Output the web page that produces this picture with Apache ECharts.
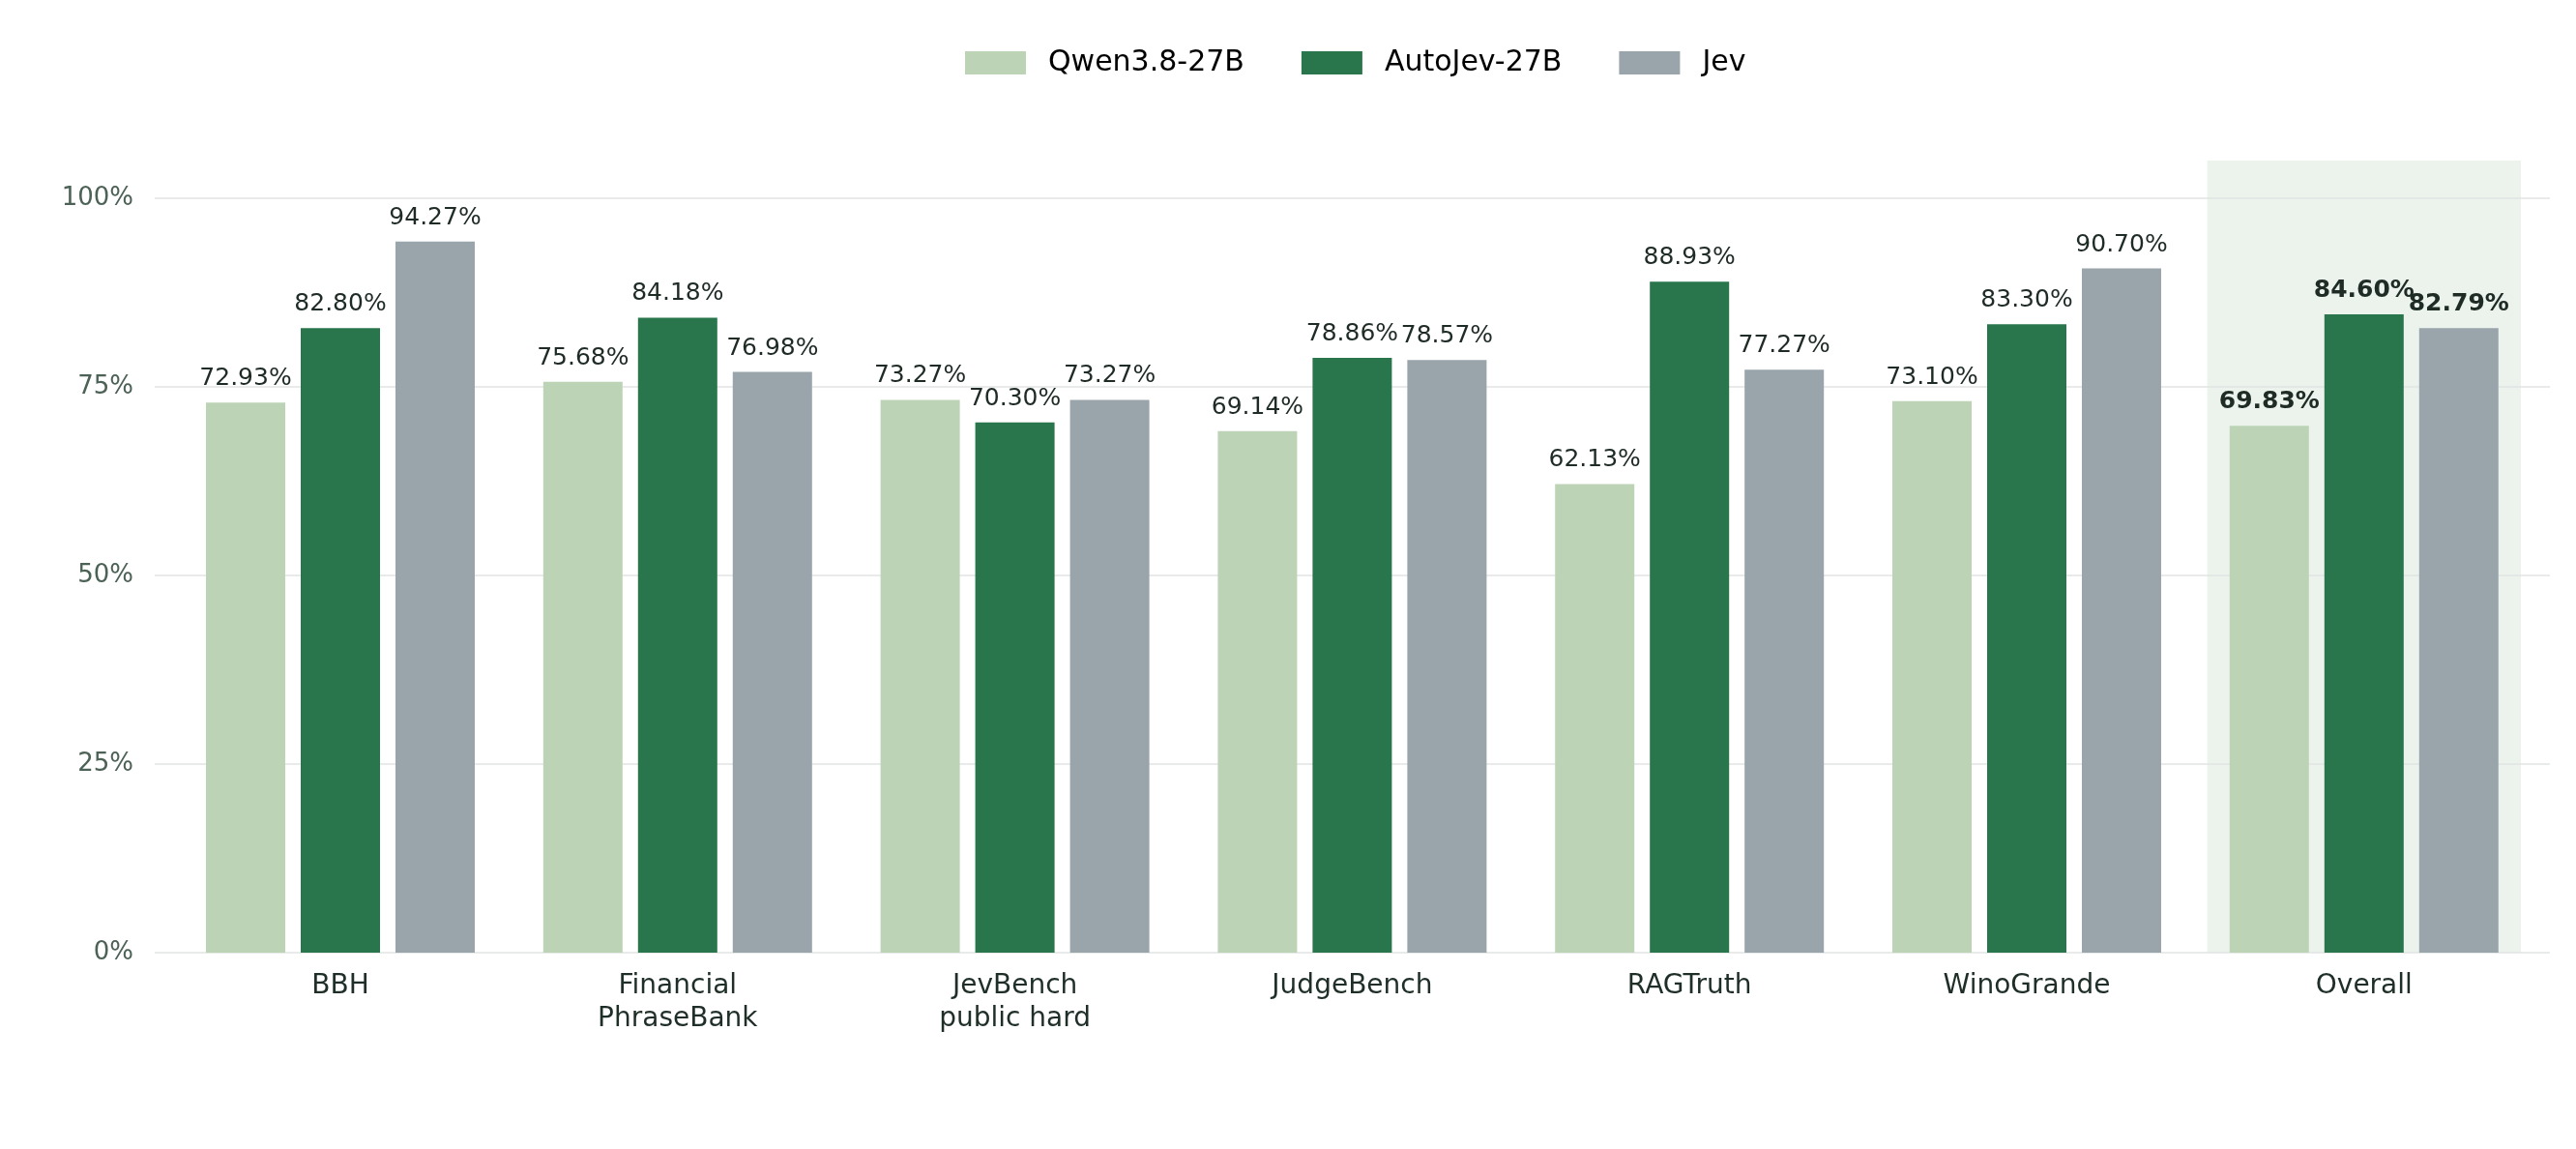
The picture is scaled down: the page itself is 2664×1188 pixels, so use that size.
<!DOCTYPE html>
<html>
<head>
<meta charset="utf-8">
<script src="https://cdn.jsdelivr.net/npm/echarts@6/dist/echarts.min.js"></script>
<style>
html,body{margin:0;padding:0;background:#ffffff;}
#chart{width:2664px;height:1188px;}
</style>
</head>
<body>
<div id="chart"></div>
<script>
const categories = ['BBH', 'Financial\nPhraseBank', 'JevBench\npublic hard', 'JudgeBench', 'RAGTruth', 'WinoGrande', 'Overall'];
const seriesNames = ['Qwen3.8-27B', 'AutoJev-27B', 'Jev'];
const qwenValues = [72.93, 75.68, 73.27, 69.14, 62.13, 73.10, 69.83];
const autoJevValues = [82.80, 84.18, 70.30, 78.86, 88.93, 83.30, 84.60];
const jevValues = [94.27, 76.98, 73.27, 78.57, 77.27, 90.70, 82.79];
const yTicks = [0, 25, 50, 75, 100];
const highlightCategory = 'Overall';
const highlightTop = 105;

const colors = ['#bdd3b6', '#2a764c', '#99a5aa'];
const FONT = 'DejaVu Sans';
const hiIndex = categories.indexOf(highlightCategory);

function makeData(vals) {
  return vals.map((v, i) => i === hiIndex
    ? { value: v, label: { fontWeight: 'bold' } }
    : v);
}

const highlightData = categories.map((c, i) => i === hiIndex ? highlightTop : null);

const chart = echarts.init(document.getElementById('chart'), null, { renderer: 'canvas' });

const barSeries = [qwenValues, autoJevValues, jevValues].map((vals, k) => ({
  name: seriesNames[k],
  type: 'bar',
  xAxisIndex: 0,
  yAxisIndex: 0,
  data: makeData(vals),
  barWidth: 82,
  barGap: '19.5%',
  itemStyle: { color: colors[k] },
  z: 3,
  label: {
    show: true,
    position: 'top',
    distance: 12,
    fontFamily: FONT,
    fontSize: 25,
    color: '#1f2b25',
    formatter: p => p.value.toFixed(2) + '%'
  }
}));

const option = {
  animation: false,
  backgroundColor: '#ffffff',
  legend: {
    data: seriesNames,
    left: 993,
    top: 45,
    icon: 'rect',
    itemWidth: 63,
    itemHeight: 24,
    itemGap: 59,
    textStyle: {
      fontFamily: FONT,
      fontSize: 30,
      color: '#000000',
      padding: [0, 0, 0, 18]
    }
  },
  grid: [
    { left: 177.6, right: 44.8, top: 205, bottom: 203 },
    { left: 160, right: 27, top: 205, bottom: 203 }
  ],
  xAxis: [
    {
      type: 'category',
      gridIndex: 0,
      data: categories,
      axisLine: { show: false },
      axisTick: { show: false },
      axisLabel: {
        margin: 18,
        fontFamily: FONT,
        fontSize: 28,
        lineHeight: 34,
        color: '#1f2f28',
        interval: 0
      },
      splitLine: { show: false }
    },
    {
      type: 'category',
      gridIndex: 0,
      data: categories,
      show: false
    },
    {
      type: 'category',
      gridIndex: 1,
      data: categories,
      show: false
    }
  ],
  yAxis: [
    {
      type: 'value',
      gridIndex: 0,
      min: 0,
      max: 100,
      interval: 25,
      show: false,
      splitLine: { show: false }
    },
    {
      type: 'value',
      gridIndex: 1,
      min: yTicks[0],
      max: yTicks[yTicks.length - 1],
      interval: yTicks[1] - yTicks[0],
      axisLine: { show: false },
      axisTick: { show: false },
      axisLabel: {
        margin: 22,
        fontFamily: FONT,
        fontSize: 26,
        color: '#4d6256',
        formatter: v => v + '%'
      },
      splitLine: { show: true, lineStyle: { color: '#e1e5e3', width: 1.6 } }
    }
  ],
  series: [
    {
      name: 'highlight',
      type: 'bar',
      xAxisIndex: 1,
      yAxisIndex: 0,
      data: highlightData,
      barWidth: '93%',
      clip: false,
      silent: true,
      z: -1,
      itemStyle: { color: '#ecf3ed' },
      label: { show: false },
      legendHoverLink: false
    },
    ...barSeries
  ]
};

chart.setOption(option);
</script>
</body>
</html>
